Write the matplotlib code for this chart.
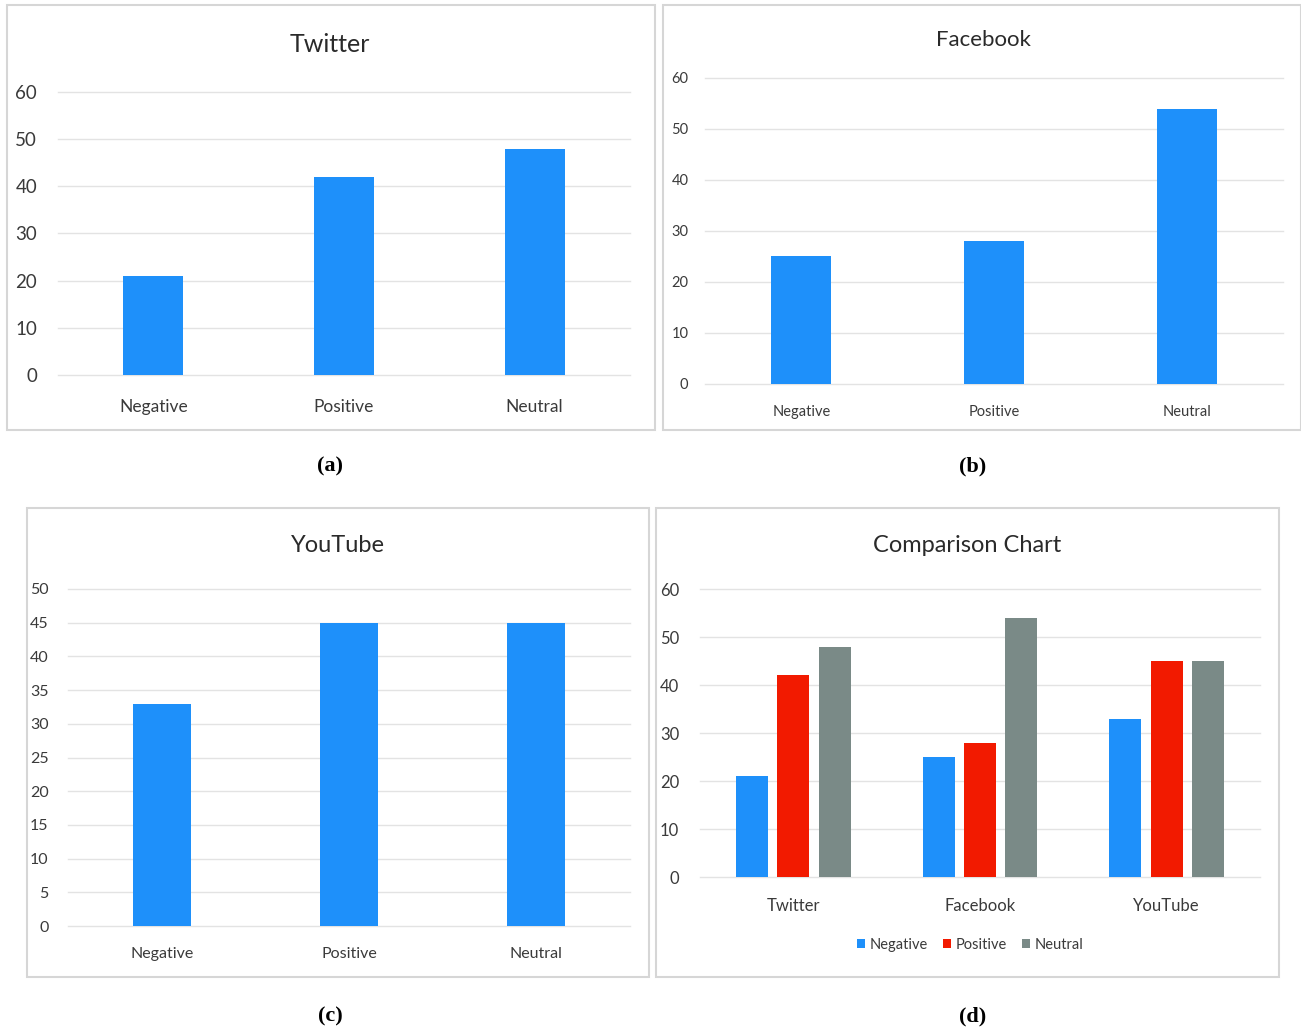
import matplotlib.pyplot as plt
from matplotlib.patches import Rectangle
import numpy as np

W, H = 1301, 1029

sentiments = ["Negative", "Positive", "Neutral"]
platforms = ["Twitter", "Facebook", "YouTube"]

twitter = [21, 42, 48]
facebook = [25, 28, 54]
youtube = [33, 45, 45]

BLUE = "#1E90FA"
RED = "#F21A00"
GRAY = "#7A8A87"
GRID = "#E3E3E3"
TEXT = "#3A3A3A"

plt.rcParams["font.family"] = ["Lato", "DejaVu Sans"]

fig = plt.figure(figsize=(W / 100, H / 100), dpi=100)
fig.patch.set_facecolor("white")


def px_axes(x0, x1, y_top, y_bot):
    return fig.add_axes([x0 / W, 1 - y_bot / H, (x1 - x0) / W, (y_bot - y_top) / H])


def frame(x0, y0, x1, y1):
    fig.patches.append(Rectangle((x0 / W, 1 - y1 / H), (x1 - x0) / W, (y1 - y0) / H,
                                 transform=fig.transFigure, fill=False,
                                 edgecolor="#D6D6D6", linewidth=1.5))


def style(ax, ymax, step, tick_fs, xfs, xpad, ypad=14):
    ax.set_ylim(0, ymax)
    ax.set_yticks(np.arange(0, ymax + 1, step))
    ax.grid(axis="y", color=GRID, linewidth=1)
    ax.set_axisbelow(True)
    for s in ax.spines.values():
        s.set_visible(False)
    ax.tick_params(axis="both", length=0, colors=TEXT)
    ax.tick_params(axis="y", labelsize=tick_fs, pad=ypad)
    ax.tick_params(axis="x", labelsize=xfs, pad=xpad)
    for gl in ax.get_ygridlines():
        gl.set_clip_on(False)
    ax.set_facecolor("none")


def single(x0, x1, y_top, y_bot, vals, ymax, step, width, tick_fs, xfs, xpad, ypad=14):
    ax = px_axes(x0, x1, y_top, y_bot)
    x = np.arange(len(sentiments))
    ax.bar(x, vals, width=width, color=BLUE)
    ax.set_xlim(-0.5, len(sentiments) - 0.5)
    ax.set_xticks(x)
    ax.set_xticklabels(sentiments)
    style(ax, ymax, step, tick_fs, xfs, xpad, ypad)
    return ax


# (a) Twitter
frame(7, 5, 655, 430)
single(58, 630, 92, 375, twitter, 60, 10, 0.315, 13.5, 12.5, 17, 15)
fig.text(330 / W, 1 - 45 / H, "Twitter", ha="center", va="center", fontsize=18, color="#2A2A2A")

# (b) Facebook
frame(663, 5, 1301, 430)
single(705, 1283, 78, 384, facebook, 60, 10, 0.31, 10.5, 10.5, 15, 12)
fig.text(983 / W, 1 - 40 / H, "Facebook", ha="center", va="center", fontsize=16, color="#2A2A2A")

# (c) YouTube
frame(27, 508, 649, 977)
single(68, 630, 589, 926, youtube, 50, 5, 0.31, 11.5, 11.5, 15)
fig.text(338 / W, 1 - 545 / H, "YouTube", ha="center", va="center", fontsize=17, color="#2A2A2A")

# (d) Comparison chart
frame(656, 508, 1279, 977)
ax = px_axes(700, 1260, 589, 877)
x = np.arange(len(platforms))
data = np.array([twitter, facebook, youtube])
colors = [BLUE, RED, GRAY]
bw = 0.171
off = 0.222
for i, (name, c) in enumerate(zip(sentiments, colors)):
    ax.bar(x + (i - 1) * off, data[:, i], width=bw, color=c, label=name)
ax.set_xlim(-0.5, len(platforms) - 0.5)
ax.set_xticks(x)
ax.set_xticklabels(platforms)
style(ax, 60, 10, 12, 12, 15, 15)
fig.text(967 / W, 1 - 545 / H, "Comparison Chart", ha="center", va="center", fontsize=17, color="#2A2A2A")
ax.legend(loc="center", bbox_to_anchor=(970 / W, 1 - 945 / H), bbox_transform=fig.transFigure,
          ncol=3, frameon=False, fontsize=10.5, handlelength=0.6, handleheight=0.6,
          handletextpad=0.3, columnspacing=1.0, labelcolor=TEXT)

# captions
for lbl, cx, cy in [("(a)", 330, 466), ("(b)", 973, 466), ("(c)", 330, 1016), ("(d)", 973, 1016)]:
    fig.text(cx / W, 1 - cy / H, lbl, ha="center", va="center", fontsize=16,
             fontweight="bold", family=["Liberation Serif", "DejaVu Serif"])

fig.savefig("out.png", dpi=100)
